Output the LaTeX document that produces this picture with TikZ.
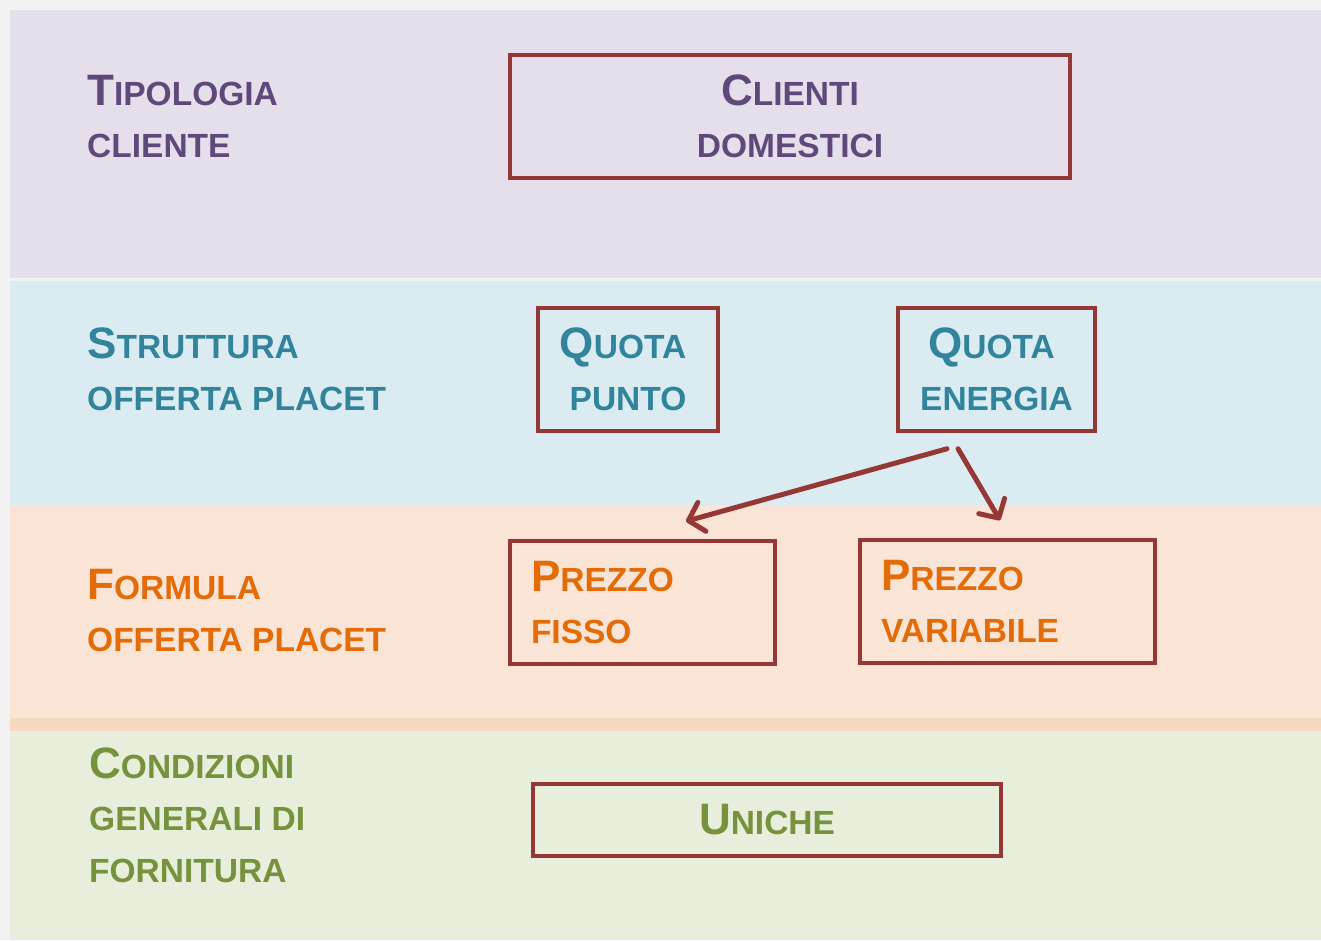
\documentclass[tikz,border=0pt]{standalone}
\usepackage{fontspec}
\setmainfont{Liberation Sans}
\usetikzlibrary{arrows.meta,calc}
\definecolor{bgout}{HTML}{F2F2F2}
\definecolor{bandP}{HTML}{E4DFEA}
\definecolor{bandB}{HTML}{DAECF1}
\definecolor{bandO}{HTML}{FAE4D6}
\definecolor{bandS}{HTML}{F6D9C0}
\definecolor{bandG}{HTML}{E8EEDC}
\definecolor{txtP}{HTML}{5F497A}
\definecolor{txtB}{HTML}{31849B}
\definecolor{txtO}{HTML}{E36C09}
\definecolor{txtG}{HTML}{76923C}
\definecolor{boxred}{HTML}{953734}
\newcommand{\BigI}[1]{{\fontsize{44}{52}\selectfont #1}}
\begin{document}
\begin{tikzpicture}[x=1pt,y=-1pt,
  txt/.style={font={\fontsize{33.5}{52}\selectfont\bfseries}},
  lbl/.style={txt, anchor=west, inner sep=0pt, align=left},
  box/.style={txt, draw=boxred, line width=3.5pt, inner sep=0pt, align=center},
  lbox/.style={box, align=left, inner xsep=21pt},
  conn/.style={draw=boxred, line width=5pt, line cap=round,
    -{Straight Barb[length=14pt,width=30pt,round]}}]
\useasboundingbox (0,0) rectangle (1321,940);
\fill[bgout] (0,0) rectangle (1321,940);
\fill[bandP] (10,10) rectangle (1321,278);
\fill[bandB] (10,281) rectangle (1321,505);
\fill[bandO] (10,505) rectangle (1321,718);
\fill[bandS] (10,718) rectangle (1321,731);
\fill[bandG] (10,731) rectangle (1321,940);
% row labels
\node[lbl, text=txtP] (l1) at (87,116.5) {\BigI{T}IPOLOGIA\\CLIENTE};
\node[lbl, text=txtB] (l2) at (87,369.5) {\BigI{S}TRUTTURA\\OFFERTA PLACET};
\node[lbl, text=txtO] (l3) at (87,611) {\BigI{F}ORMULA\\OFFERTA PLACET};
\node[lbl, text=txtG] (l4) at (89,815.5) {\BigI{C}ONDIZIONI\\GENERALI DI\\FORNITURA};
% boxes
\node[box, text=txtP, minimum width=560pt, minimum height=123pt] (cd) at (790,116.5) {\BigI{C}LIENTI\\DOMESTICI};
\node[box, text=txtB, minimum width=180pt, minimum height=123pt] (qp) at (628,369.5) {\BigI{Q}UOTA\hspace*{10pt}\\PUNTO};
\node[box, text=txtB, minimum width=197pt, minimum height=123pt] (qe) at (996.5,369.5) {\BigI{Q}UOTA\hspace*{10pt}\\ENERGIA};
\node[lbox, text=txtO, text width=223pt, minimum height=123pt] (pf) at (642.5,602.5) {\BigI{P}REZZO\\FISSO};
\node[lbox, text=txtO, text width=253pt, minimum height=123pt] (pv) at (1007.5,601.5) {\BigI{P}REZZO\\VARIABILE};
\node[box, text=txtG, minimum width=468pt, minimum height=72pt] (un) at (767,820) {\BigI{U}NICHE};
% connectors
\coordinate (a1s) at ($(qe.south)+(-49.5,16)$);
\coordinate (a1e) at ($(pf.north)+(43.5,-18)$);
\coordinate (a2s) at ($(qe.south)+(-38.5,16)$);
\coordinate (a2e) at ($(pv.north)+(-7.5,-18)$);
\draw[conn] (a1s) -- (a1e);
\draw[conn] (a2s) -- (a2e);
\end{tikzpicture}
\end{document}
